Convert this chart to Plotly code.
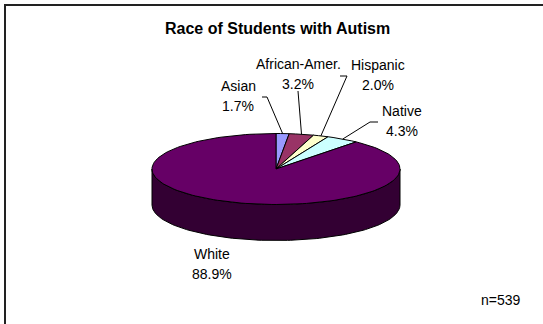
import numpy as np
import plotly.graph_objects as go

# Race breakdown of students with autism (n=539)
categories = ["Asian", "African-Amer.", "Hispanic", "Native", "White"]
percents = [1.7, 3.2, 2.0, 4.3, 88.9]
colors = ["#9999FF", "#993366", "#FFFFCC", "#CCFFFF", "#660066"]
side_color = "#330033"
title_text = "Race of Students with Autism"
note_text = "n=539"

W, H = 543, 324
CX, CY = 276, 169      # centre of the pie's top face
RX, RY = 124, 35.5     # radii of the tilted ellipse
DEPTH = 36             # thickness of the pie
FONT = "Liberation Sans, Arial"
LINE_GAP = 20          # distance between the two lines of a data label


def ellipse_pt(theta_deg, dy=0.0):
    t = np.radians(theta_deg)
    return CX + RX * np.sin(t), CY - RY * np.cos(t) + dy


fig = go.Figure()

# Front wall of the pie (visible half from 90 to 270 degrees)
th = np.linspace(90, 270, 120)
tx, ty = ellipse_pt(th)
bx, by = ellipse_pt(th[::-1], DEPTH)
fig.add_trace(go.Scatter(
    x=np.concatenate([tx, bx, tx[:1]]), y=np.concatenate([ty, by, ty[:1]]),
    mode="lines", fill="toself", fillcolor=side_color,
    line=dict(color="black", width=1), hoverinfo="skip", showlegend=False))

# Top face slices, clockwise from 12 o'clock
total = sum(percents)
start = 0.0
mids = []
for name, p, c in zip(categories, percents, colors):
    a0 = start / total * 360
    a1 = (start + p) / total * 360
    n = max(4, int((a1 - a0) / 2))
    ang = np.linspace(a0, a1, n)
    ax_, ay_ = ellipse_pt(ang)
    fig.add_trace(go.Scatter(
        x=np.concatenate([[CX], ax_, [CX]]), y=np.concatenate([[CY], ay_, [CY]]),
        mode="lines", fill="toself", fillcolor=c,
        line=dict(color="black", width=1), name=name,
        hoverinfo="skip", showlegend=False))
    mids.append((a0 + a1) / 2)
    start += p

# Label anchors: centre x and the y of the first text line
label_pos = {
    "Asian": (238, 86),
    "African-Amer.": (298, 64),
    "Hispanic": (378, 65),
    "Native": (402, 111),
    "White": (212, 254),
}
elbows = {
    "Asian": [(262, 97), (267, 97)],
    "African-Amer.": [(298, 91)],
    "Hispanic": [(340, 76), (347, 76)],
    "Native": [(378, 122), (370, 122)],
}

for name, p, m in zip(categories, percents, mids):
    lx, ly = label_pos[name]
    for k, txt in enumerate([name, f"{p:.1f}%"]):
        fig.add_annotation(
            x=lx, y=ly + k * LINE_GAP, text=txt, showarrow=False,
            font=dict(family=FONT, size=14, color="black"),
            xanchor="center", yanchor="middle")
    if name in elbows:
        ex, ey = ellipse_pt(m)
        pts = elbows[name] + [(ex, ey)]
        fig.add_trace(go.Scatter(
            x=[q[0] for q in pts], y=[q[1] for q in pts], mode="lines",
            line=dict(color="black", width=1), hoverinfo="skip",
            showlegend=False))

fig.add_annotation(
    x=277, y=28, text=f"<b>{title_text}</b>", showarrow=False,
    font=dict(family=FONT, size=16, color="black"),
    xanchor="center", yanchor="middle")
fig.add_annotation(
    x=501, y=300, text=note_text, showarrow=False,
    font=dict(family=FONT, size=14, color="black"),
    xanchor="center", yanchor="middle")

# Chart frame
fig.add_shape(type="rect", x0=5, y0=5, x1=W + 10, y1=H + 10,
              line=dict(color="#222222", width=2), layer="above")

fig.update_layout(
    width=W, height=H, margin=dict(l=0, r=0, t=0, b=0),
    paper_bgcolor="white", plot_bgcolor="white",
    xaxis=dict(range=[0, W], visible=False, fixedrange=True),
    yaxis=dict(range=[H, 0], visible=False, fixedrange=True),
)

fig.write_html("out.html")
